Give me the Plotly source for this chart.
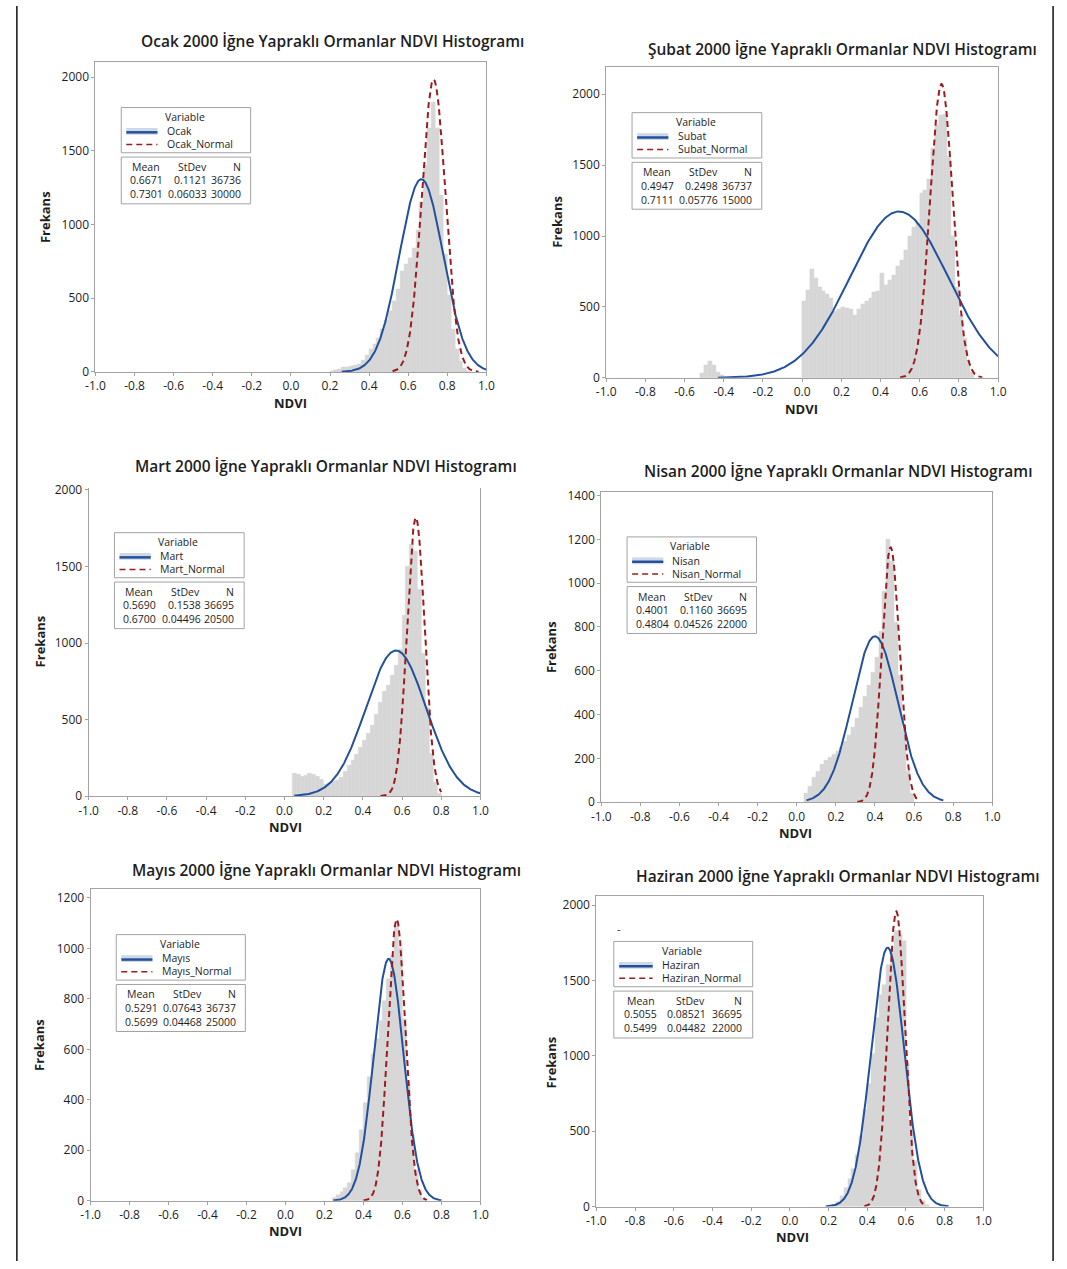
import numpy as np
import plotly.graph_objects as go

# ---------------- data ----------------
TITLES = [
    "Ocak 2000 İğne Yapraklı Ormanlar NDVI Histogramı",
    "Şubat 2000 İğne Yapraklı Ormanlar NDVI Histogramı",
    "Mart 2000 İğne Yapraklı Ormanlar NDVI Histogramı",
    "Nisan 2000 İğne Yapraklı Ormanlar NDVI Histogramı",
    "Mayıs 2000 İğne Yapraklı Ormanlar NDVI Histogramı",
    "Haziran 2000 İğne Yapraklı Ormanlar NDVI Histogramı",
]
VAR_NAMES = ["Ocak", "Subat", "Mart", "Nisan", "Mayıs", "Haziran"]
X_AXIS_TITLE = "NDVI"
Y_AXIS_TITLE = "Frekans"

X_TICKS = [-1.0, -0.8, -0.6, -0.4, -0.2, 0.0, 0.2, 0.4, 0.6, 0.8, 1.0]
X_TICK_LABELS = ["-1.0", "-0.8", "-0.6", "-0.4", "-0.2", "0.0", "0.2", "0.4", "0.6", "0.8", "1.0"]
Y_TICKS = [
    [0, 500, 1000, 1500, 2000],
    [0, 500, 1000, 1500, 2000],
    [0, 500, 1000, 1500, 2000],
    [0, 200, 400, 600, 800, 1000, 1200, 1400],
    [0, 200, 400, 600, 800, 1000, 1200],
    [0, 500, 1000, 1500, 2000],
]

# legend statistics (data row, normal row)
MEAN = [[0.6671, 0.7301], [0.4947, 0.7111], [0.5690, 0.6700],
        [0.4001, 0.4804], [0.5291, 0.5699], [0.5055, 0.5499]]
STDEV = [[0.1121, 0.06033], [0.2498, 0.05776], [0.1538, 0.04496],
         [0.1160, 0.04526], [0.07643, 0.04468], [0.08521, 0.04482]]
N = [[36736, 30000], [36737, 15000], [36695, 20500],
     [36695, 22000], [36737, 25000], [36695, 22000]]
MEAN_TXT = [["0.6671", "0.7301"], ["0.4947", "0.7111"], ["0.5690", "0.6700"],
            ["0.4001", "0.4804"], ["0.5291", "0.5699"], ["0.5055", "0.5499"]]
STDEV_TXT = [["0.1121", "0.06033"], ["0.2498", "0.05776"], ["0.1538", "0.04496"],
             ["0.1160", "0.04526"], ["0.07643", "0.04468"], ["0.08521", "0.04482"]]
BIN_WIDTH = [0.01, 0.02, 0.01, 0.006, 0.005, 0.01]

# extent (NDVI) over which each fitted curve is drawn: [data curve, normal curve]
CURVE_RANGE = [
    [[0.26, 1.0], [0.52, 0.96]],
    [[-0.43, 1.0], [0.50, 0.92]],
    [[0.05, 1.0], [0.49, 0.80]],
    [[0.05, 0.75], [0.31, 0.63]],
    [[0.245, 0.80], [0.40, 0.725]],
    [[0.185, 0.82], [0.385, 0.695]],
]

# histogram heights (frequency), read every 0.02 NDVI starting at HIST_START
HIST_START = [0.21, -0.51, 0.05, 0.05, 0.25, 0.23]
HIST_OCAK = [5, 12, 20, 28, 32, 36, 42, 50, 75, 110,
             150, 185, 225, 290, 350, 410, 480, 560, 680, 730,
             770, 840, 960, 1150, 1400, 1650, 1830, 1650, 1200, 800,
             520, 290, 150, 70, 25, 6]
HIST_SUBAT = [30, 90, 115, 85, 40, 15,
              0, 0, 0, 0, 0, 0, 0, 0, 0, 0, 0, 0, 0, 0, 0, 0, 0, 0, 0, 0,
              540, 620, 765, 700, 640, 610, 590, 560, 470, 480,
              500, 490, 480, 440, 480, 520, 540, 560, 600, 610,
              740, 650, 690, 720, 790, 830, 900, 1000, 1060, 1090,
              1300, 1320, 1400, 1620, 1780, 1850, 1860, 1560, 1000, 640,
              440, 280, 120, 40]
HIST_MART = [150, 140, 125, 135, 145, 140, 130, 110, 75, 85,
             95, 100, 120, 160, 200, 230, 270, 320, 360, 410,
             460, 530, 610, 680, 720, 790, 850, 960, 1180, 1500,
             1640, 1600, 1350, 930, 580, 280, 90, 15]
HIST_NISAN = [40, 70, 110, 140, 170, 190, 205, 215, 230, 250,
              275, 305, 340, 380, 430, 480, 530, 590, 660, 780,
              960, 1200, 1100, 820, 580, 330, 140, 40]
HIST_MAYIS = [10, 20, 35, 50, 70, 120, 190, 280, 385, 490,
              580, 640, 710, 790, 880, 970, 1090, 1000, 720, 470,
              260, 120, 40, 10]
HIST_HAZIRAN = [10, 30, 70, 120, 180, 250, 340, 470, 640, 810,
                1010, 1250, 1400, 1470, 1600, 1710, 1830, 1800, 1760, 950,
                560, 300, 110, 40, 10]
HISTS = [HIST_OCAK, HIST_SUBAT, HIST_MART, HIST_NISAN, HIST_MAYIS, HIST_HAZIRAN]

# ---------------- styling / layout ----------------
W, H = 1067, 1269
FONT = "Open Sans"
GRAY = "#d6d6d6"
BLUE = "#22509c"
RED = "#9b1c20"
FRAME = "#a3a3a3"
TXT = "#1e1e1e"


def fx(px):
    return px / W


def fy(py):
    return 1 - py / H


# frame in page pixels: left, right, top, bottom(y=0), ymax, title centre, xlabel centre, ylabel centre
PANELS = [
    dict(l=87, r=485, t=57, b=370, ymax=2100, title=(328, 35), xl=(286, 401), yl=(35, 213), top=True),
    dict(l=607, r=1006, t=62, b=376, ymax=2190, title=(848, 43), xl=(806, 407), yl=(557, 218), top=True),
    dict(l=80, r=479, t=487, b=799, ymax=2015, title=(322, 465), xl=(280, 830), yl=(30, 642), top=False),
    dict(l=602, r=1000, t=491, b=805, ymax=1418, title=(843, 470), xl=(800, 836), yl=(551, 648), top=True),
    dict(l=82, r=479, t=893, b=1208, ymax=1235, title=(322, 874), xl=(280, 1239), yl=(30, 1050), top=True),
    dict(l=597, r=991, t=900, b=1214, ymax=2060, title=(843, 880), xl=(797, 1245), yl=(551, 1068), top=True),
]
# legend boxes in axis-domain fractions (x0, x1)
LEG_X = [(0.066, 0.397)] * 5 + [(0.045, 0.404)]

fig = go.Figure()
shapes = []
annotations = []

for i in range(6):
    p = PANELS[i]
    xa = "x" if i == 0 else f"x{i + 1}"
    ya = "y" if i == 0 else f"y{i + 1}"
    xr = f"{xa} domain"
    yr = f"{ya} domain"

    centers = np.round(HIST_START[i] + 0.02 * np.arange(len(HISTS[i])), 3)
    fig.add_trace(go.Bar(
        x=centers, y=HISTS[i], width=0.02,
        marker=dict(color=GRAY, line=dict(color=GRAY, width=0.6)),
        xaxis=xa, yaxis=ya, showlegend=False, hoverinfo="skip"))

    for j in range(2):
        lo, hi = CURVE_RANGE[i][j]
        xs = np.linspace(lo, hi, 400)
        m, s, n = MEAN[i][j], STDEV[i][j], N[i][j]
        ys = n * BIN_WIDTH[i] * np.exp(-0.5 * ((xs - m) / s) ** 2) / (s * np.sqrt(2 * np.pi))
        line = dict(color=BLUE, width=2) if j == 0 else dict(color=RED, width=2, dash="6px,4px")
        fig.add_trace(go.Scatter(x=xs, y=ys, mode="lines", line=line,
                                 xaxis=xa, yaxis=ya, showlegend=False, hoverinfo="skip"))

    fig.layout[("xaxis" if i == 0 else f"xaxis{i + 1}")] = dict(
        domain=[fx(p["l"]), fx(p["r"])], range=[-1.0, 1.0], anchor=ya,
        tickvals=X_TICKS, ticktext=X_TICK_LABELS, ticks="outside", ticklen=3,
        tickcolor=FRAME, showline=True, linecolor=FRAME, linewidth=1,
        mirror=p["top"], showgrid=False, zeroline=False,
        tickfont=dict(family=FONT, size=12, color=TXT))
    fig.layout[("yaxis" if i == 0 else f"yaxis{i + 1}")] = dict(
        domain=[fy(p["b"]), fy(p["t"])], range=[0, p["ymax"]], anchor=xa,
        tickvals=Y_TICKS[i], ticks="outside", ticklen=3,
        tickcolor=FRAME, showline=True, linecolor=FRAME, linewidth=1,
        mirror=True, showgrid=False, zeroline=False,
        tickfont=dict(family=FONT, size=12, color=TXT))

    # titles
    annotations.append(dict(x=fx(p["title"][0]), y=fy(p["title"][1]), xref="paper", yref="paper",
                            text=TITLES[i], showarrow=False, xanchor="center", yanchor="middle",
                            font=dict(family=FONT, size=15.5, color=TXT, weight=600)))
    annotations.append(dict(x=fx(p["xl"][0]), y=fy(p["xl"][1]), xref="paper", yref="paper",
                            text=X_AXIS_TITLE, showarrow=False, xanchor="center", yanchor="middle",
                            font=dict(family=FONT, size=13, color=TXT, weight=700)))
    annotations.append(dict(x=fx(p["yl"][0]), y=fy(p["yl"][1]), xref="paper", yref="paper",
                            text=Y_AXIS_TITLE, showarrow=False, xanchor="center", yanchor="middle",
                            textangle=-90, font=dict(family=FONT, size=13, color=TXT, weight=700)))

    # legend boxes
    x0, x1 = LEG_X[i]
    bw = x1 - x0
    box_line = dict(color=FRAME, width=1)
    shapes.append(dict(type="rect", xref=xr, yref=yr, x0=x0, x1=x1, y0=1 - 0.292, y1=1 - 0.146,
                       line=box_line, fillcolor="white", layer="above"))
    shapes.append(dict(type="rect", xref=xr, yref=yr, x0=x0, x1=x1, y0=1 - 0.457, y1=1 - 0.306,
                       line=box_line, fillcolor="white", layer="above"))
    sx0, sx1 = x0 + 0.039 * bw, x0 + 0.28 * bw
    shapes.append(dict(type="rect", xref=xr, yref=yr, x0=sx0, x1=sx1, y0=1 - 0.234, y1=1 - 0.212,
                       line=dict(width=0), fillcolor="#cfd8e6", layer="above"))
    shapes.append(dict(type="line", xref=xr, yref=yr, x0=sx0, x1=sx1, y0=1 - 0.226, y1=1 - 0.226,
                       line=dict(color=BLUE, width=2.5), layer="above"))
    shapes.append(dict(type="line", xref=xr, yref=yr, x0=sx0, x1=sx1, y0=1 - 0.265, y1=1 - 0.265,
                       line=dict(color=RED, width=1.5, dash="6px,4px"), layer="above"))

    lf = dict(family=FONT, size=10.5, color=TXT)

    def ann(x, y, text, anchor="left"):
        annotations.append(dict(x=x, y=1 - y, xref=xr, yref=yr, text=text, showarrow=False,
                                xanchor=anchor, yanchor="middle", font=lf))

    ann(x0 + 0.49 * bw, 0.176, "Variable", "center")
    ann(x0 + 0.335 * bw, 0.222, VAR_NAMES[i])
    ann(x0 + 0.335 * bw, 0.264, VAR_NAMES[i] + "_Normal")
    ann(x0 + 0.193 * bw, 0.338, "Mean", "center")
    ann(x0 + 0.55 * bw, 0.338, "StDev", "center")
    ann(x0 + 0.94 * bw, 0.338, "N", "right")
    for j in range(2):
        yy = 0.381 + 0.045 * j
        ann(x0 + 0.193 * bw, yy, MEAN_TXT[i][j], "center")
        ann(x0 + 0.68 * bw, yy, STDEV_TXT[i][j], "right")
        ann(x0 + 0.94 * bw, yy, str(N[i][j]), "right")

# stray mark in the Haziran panel
annotations.append(dict(x=0.058, y=1 - 0.105, xref="x6 domain", yref="y6 domain", text="-",
                        showarrow=False, xanchor="center", yanchor="middle",
                        font=dict(family=FONT, size=11, color=TXT)))

# page border lines
for xpx in (7, 1062):
    shapes.append(dict(type="line", xref="paper", yref="paper", x0=fx(xpx), x1=fx(xpx),
                       y0=0, y1=1, line=dict(color="#111111", width=1.5)))

fig.update_layout(
    width=W, height=H, margin=dict(l=0, r=0, t=0, b=0),
    paper_bgcolor="white", plot_bgcolor="white",
    barmode="overlay", bargap=0,
    shapes=shapes, annotations=annotations,
    font=dict(family=FONT, color=TXT),
)

POST = (
    "document.documentElement.style.margin='0px';"
    "document.documentElement.style.overflow='hidden';"
    "document.body.style.margin='0px';"
    "document.body.style.overflow='hidden';"
    "var d=document.getElementById('{plot_id}');"
    "d.style.position='fixed';d.style.left='0px';d.style.top='0px';"
)

fig.write_html("out.html", config={"displayModeBar": False}, post_script=POST)
